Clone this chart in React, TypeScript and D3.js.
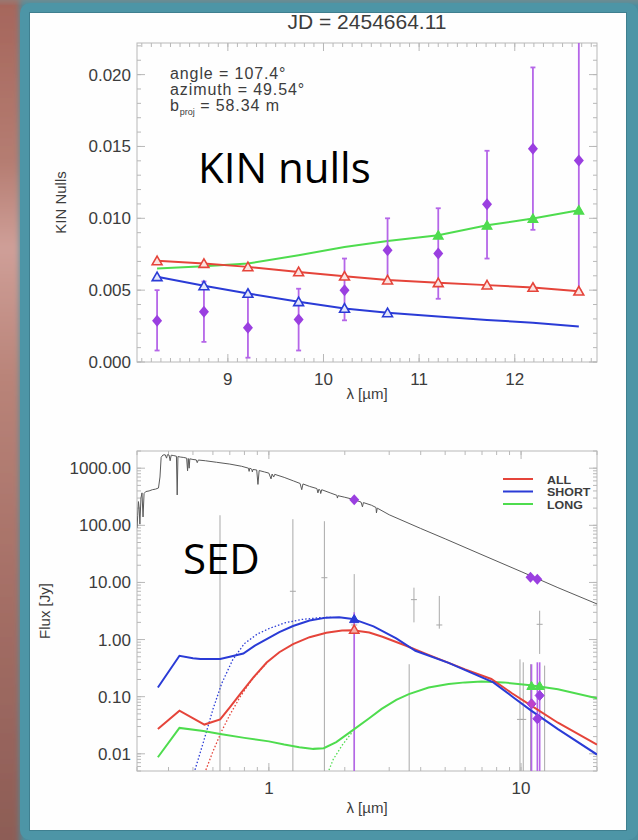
import React from 'react';
import * as d3 from 'd3';

// ---------- KIN nulls (top panel) ----------
const kinLambda = [8.26, 8.75, 9.21, 9.74, 10.22, 10.67, 11.2, 11.71, 12.19, 12.67];
const kinNull = [0.00287, 0.00349, 0.00238, 0.00296, 0.005, 0.00778, 0.00755, 0.01097, 0.01484, 0.01403];
const kinNullHi = [0.005, 0.0056, 0.0048, 0.0051, 0.0072, 0.01, 0.0107, 0.0147, 0.0205, 0.024];
const kinNullLo = [0.0008, 0.0014, 0.0003, 0.0008, 0.0029, 0.0057, 0.0044, 0.0072, 0.0092, 0.005];
const modelAll = [0.00704, 0.00685, 0.00662, 0.00627, 0.00597, 0.0057, 0.00551, 0.00535, 0.00519, 0.00493];
const modelShort = [0.00593, 0.0053, 0.00477, 0.00419, 0.00373, 0.00342, 0.00316, 0.00293, 0.00273, 0.00247];
const modelLong = [0.00651, 0.00667, 0.00685, 0.00743, 0.008, 0.00842, 0.00882, 0.00951, 0.00998, 0.01056];
const shortFitCount = 6; // triangles on first 6 channels
const longFitStart = 6; // filled triangles from 7th channel

const topXTicks = [9, 10, 11, 12];
const topYTicks = [0, 0.005, 0.01, 0.015, 0.02];
const infoLines = ['angle = 107.4°', 'azimuth = 49.54°'];

// ---------- SED (bottom panel) ----------
const photosphere: [number, number][] = [
  [0.3, 90], [0.302, 150], [0.304, 260], [0.306, 200], [0.308, 105], [0.311, 300], [0.314, 370],
  [0.317, 140], [0.32, 360], [0.325, 390], [0.335, 400], [0.345, 420], [0.355, 430], [0.365, 450],
  [0.37, 700], [0.374, 1550], [0.38, 1700], [0.388, 1720], [0.393, 1500], [0.396, 1720], [0.402, 1700],
  [0.406, 1350], [0.41, 1690], [0.42, 1660], [0.43, 1620], [0.433, 340], [0.436, 1600], [0.445, 1570],
  [0.46, 1540], [0.472, 1500], [0.476, 900], [0.479, 1480], [0.483, 1000], [0.486, 1460], [0.5, 1420],
  [0.515, 1400], [0.52, 1250], [0.525, 1390], [0.56, 1350], [0.62, 1270], [0.7, 1180], [0.78, 1080],
  [0.83, 1000], [0.835, 880], [0.84, 1000], [0.855, 960], [0.86, 860], [0.865, 950], [0.895, 930],
  [0.905, 520], [0.915, 910], [0.96, 860], [1.0, 820], [1.02, 650], [1.03, 790], [1.045, 700],
  [1.055, 780], [1.15, 690], [1.25, 600], [1.33, 540], [1.35, 420], [1.365, 530], [1.45, 480],
  [1.55, 440], [1.565, 370], [1.58, 430], [1.6, 400], [1.605, 360], [1.62, 420], [1.75, 370],
  [1.86, 335], [1.87, 300], [1.88, 330], [2.0, 310], [2.16, 285], [2.32, 255], [2.35, 210],
  [2.37, 250], [2.55, 225], [2.66, 205], [2.67, 165], [2.69, 200], [3.0, 153], [4.0, 88],
  [5.0, 58], [7.0, 30.5], [10.0, 15.5], [14.0, 8.1], [20.0, 4.2],
];
const sedAll: [number, number][] = [
  [0.363, 0.0273], [0.442, 0.057], [0.555, 0.0325], [0.641, 0.04], [0.7, 0.065], [0.769, 0.111],
  [0.87, 0.22], [0.98, 0.397], [1.1, 0.6], [1.247, 0.83], [1.45, 1.1], [1.69, 1.32], [1.95, 1.44],
  [2.15, 1.46], [2.5, 1.33], [2.82, 1.12], [3.5, 0.78], [4.2, 0.56], [4.71, 0.46], [6.0, 0.3],
  [7.62, 0.204], [9.2, 0.115], [10.97, 0.0697], [14, 0.035], [20, 0.0145],
];
const sedShort: [number, number][] = [
  [0.363, 0.145], [0.442, 0.52], [0.5, 0.47], [0.535, 0.455], [0.641, 0.455], [0.7, 0.5], [0.792, 0.57],
  [0.88, 0.78], [0.98, 1.02], [1.1, 1.35], [1.247, 1.73], [1.45, 2.15], [1.69, 2.42], [1.9, 2.45],
  [2.15, 2.3], [2.6, 1.7], [3.2, 1.05], [3.81, 0.636], [5.16, 0.39], [6.5, 0.25], [7.76, 0.178],
  [9.3, 0.098], [10.97, 0.057], [14, 0.027], [20, 0.0097],
];
const sedLong: [number, number][] = [
  [0.363, 0.0087], [0.442, 0.0284], [0.55, 0.025], [0.65, 0.022], [0.8, 0.019], [1.0, 0.0165],
  [1.15, 0.0145], [1.32, 0.013], [1.5, 0.0122], [1.65, 0.0125], [1.85, 0.016], [2.14, 0.0255],
  [2.5, 0.042], [2.8, 0.061], [3.2, 0.088], [3.59, 0.111], [4.3, 0.145], [5.16, 0.166], [6.0, 0.178],
  [6.97, 0.185], [8.5, 0.178], [10.9, 0.158], [14, 0.135], [20, 0.094],
];
const dustAll: [number, number][] = [
  [0.55, 0.004], [0.6, 0.011], [0.65, 0.025], [0.7, 0.048], [0.77, 0.1], [0.85, 0.19], [0.98, 0.39],
];
const dustShort: [number, number][] = [
  [0.5, 0.004], [0.55, 0.016], [0.6, 0.06], [0.65, 0.17], [0.72, 0.45], [0.8, 0.85], [0.9, 1.25],
  [1.0, 1.55], [1.15, 1.95], [1.35, 2.25], [1.6, 2.42], [1.8, 2.45],
];
const dustLong: [number, number][] = [[1.69, 0.004], [1.8, 0.008], [1.95, 0.014], [2.14, 0.024]];

// photometry on the stellar model
const photLam = [2.18, 10.9, 11.6];
const photFlux = [280, 12.3, 11.4];
// gray data points: lambda, flux, low, high
const grayLam = [0.64, 1.245, 1.66, 2.18, 3.6, 3.76, 4.74, 9.9, 10.2, 10.9, 11.85, 12.4];
const grayFlux = [0.002, 7.0, 12.1, 1.8, 0.002, 5.0, 1.8, 0.04, 0.04, 0.002, 1.85, 0.002];
const grayLo = [0.001, 0.001, 0.001, 0.001, 0.001, 2.0, 1.55, 0.001, 0.001, 0.001, 0.56, 0.001];
const grayHi = [150, 128, 118, 14, 0.37, 8.1, 5.8, 0.45, 0.4, 0.37, 3.2, 0.35];
// excess (purple) points
const excessLam = [2.18, 11.0, 11.6, 11.85];
const excessFlux = [1.9, 0.075, 0.041, 0.105];
const excessHi = [3.0, 0.37, 0.4, 0.4];
const excessLo = [0.001, 0.001, 0.001, 0.001];
// fitted points
const fitShortPt: [number, number][] = [[2.18, 2.3]];
const fitAllPt: [number, number][] = [[2.18, 1.5]];
const fitLongPt: [number, number][] = [[11.0, 0.155], [11.85, 0.155]];

const botXTicks = [1, 10];
const botYTicks = [0.01, 0.1, 1, 10, 100, 1000];
const legendNames = ['ALL', 'SHORT', 'LONG'];

const RED = '#e5443a';
const BLUE = '#2a3bd6';
const GREEN = '#4edc4e';
const PURPLE = '#9a3fe0';
const PURPLE_BAR = '#b566e8';
const AXIS = '#b8b8b8';
const TXT = '#3c3c3c';
const FONT = "'Liberation Sans', Arial, Helvetica, sans-serif";

const topBox = { l: 137, r: 597, t: 43, b: 362 };
const botBox = { l: 137, r: 597, t: 451, b: 771 };

function diamond(x: number, y: number, w = 5, h = 6) {
  return `M${x},${y - h}L${x + w},${y}L${x},${y + h}L${x - w},${y}Z`;
}
const triPath = d3.symbol(d3.symbolTriangle, 42)()!;
const triPathSmall = d3.symbol(d3.symbolTriangle, 38)()!;

export default function App() {
  const xT = d3.scaleLinear().domain([8.05, 12.86]).range([topBox.l, topBox.r]);
  const yT = d3.scaleLinear().domain([0, 0.0222]).range([topBox.b, topBox.t]);
  const xB = d3.scaleLog().domain([0.3, 20]).range([botBox.l, botBox.r]);
  const yB = d3.scaleLog().domain([0.005, 2000]).range([botBox.b, botBox.t]);

  const lineT = (vals: number[]) =>
    d3.line<number>().x((_, i) => xT(kinLambda[i])).y((d) => yT(d))(vals) || '';
  const lineB = d3.line<[number, number]>().x((d) => xB(d[0])).y((d) => yB(d[1]));

  // ticks
  const topXMinor = d3.range(81, 129).map((v) => v / 10).filter((v) => v >= 8.05 && v <= 12.86);
  const topYMinor = d3.range(0, 23).map((v) => v / 1000).filter((v) => v <= 0.0222);
  const botXMinor: number[] = [];
  [0.1, 1, 10].forEach((dec) => d3.range(1, 10).forEach((m) => {
    const v = dec * m;
    if (v >= 0.3 && v <= 20.01) botXMinor.push(v);
  }));
  const botYMinor: number[] = [];
  [0.001, 0.01, 0.1, 1, 10, 100, 1000].forEach((dec) => d3.range(1, 10).forEach((m) => {
    const v = dec * m;
    if (v >= 0.005 && v <= 2000.1) botYMinor.push(v);
  }));

  const tickSet = (
    box: typeof topBox,
    xs: number[],
    ys: number[],
    xsc: (v: number) => number,
    ysc: (v: number) => number,
    len: number,
    key: string,
  ) => (
    <g key={key} stroke={AXIS} strokeWidth={1}>
      {xs.map((v, i) => (
        <g key={`x${i}`}>
          <line x1={xsc(v)} x2={xsc(v)} y1={box.b} y2={box.b - len} />
          <line x1={xsc(v)} x2={xsc(v)} y1={box.t} y2={box.t + len} />
        </g>
      ))}
      {ys.map((v, i) => (
        <g key={`y${i}`}>
          <line x1={box.l} x2={box.l + len} y1={ysc(v)} y2={ysc(v)} />
          <line x1={box.r} x2={box.r - len} y1={ysc(v)} y2={ysc(v)} />
        </g>
      ))}
    </g>
  );

  return (
    <svg
      width={638}
      height={840}
      style={{ position: 'fixed', left: 0, top: 0, display: 'block' }}
      fontFamily={FONT}
    >
      <defs>
        <linearGradient id="bgRed" x1="0" y1="0" x2="0" y2="1">
          <stop offset="0" stopColor="#a4645a" />
          <stop offset="0.2" stopColor="#b57d72" />
          <stop offset="0.3" stopColor="#cf9f98" />
          <stop offset="0.45" stopColor="#b98479" />
          <stop offset="0.7" stopColor="#a56f66" />
          <stop offset="1" stopColor="#8c5c55" />
        </linearGradient>
        <filter id="blur4" x="-20%" y="-20%" width="140%" height="140%">
          <feGaussianBlur stdDeviation="3" />
        </filter>
        <clipPath id="clipTop">
          <rect x={topBox.l} y={topBox.t} width={topBox.r - topBox.l} height={topBox.b - topBox.t} />
        </clipPath>
        <clipPath id="clipBot">
          <rect x={botBox.l} y={botBox.t} width={botBox.r - botBox.l} height={botBox.b - botBox.t} />
        </clipPath>
      </defs>

      {/* background & frame */}
      <rect x={0} y={0} width={638} height={840} fill="#4a8e9f" />
      <rect x={-10} y={-10} width={30} height={860} fill="url(#bgRed)" filter="url(#blur4)" />
      <rect x={-10} y={-10} width={660} height={12} fill="#8f8a86" filter="url(#blur4)" opacity={0.7} />
      <rect x={20} y={3} width={618} height={837} rx={10} fill="#4d95a6" />
      <rect x={29} y={12} width={598} height={819} fill="#3f7f8f" />
      <rect x={30} y={13} width={596} height={817} fill="#fefefe" />

      {/* ================= TOP PANEL ================= */}
      <text x={(topBox.l + topBox.r) / 2} y={29} textAnchor="middle" fontSize={21} fill={TXT}>
        JD = 2454664.11
      </text>
      <rect x={topBox.l} y={topBox.t} width={topBox.r - topBox.l} height={topBox.b - topBox.t}
        fill="none" stroke={AXIS} strokeWidth={1} />
      {tickSet(topBox, topXMinor, topYMinor, xT, yT, 4, 'tmin')}
      {tickSet(topBox, topXTicks, topYTicks, xT, yT, 8, 'tmaj')}
      {topYTicks.map((v) => (
        <text key={v} x={131} y={yT(v) + 6} textAnchor="end" fontSize={17} fill={TXT}>
          {d3.format('.3f')(v)}
        </text>
      ))}
      {topXTicks.map((v) => (
        <text key={v} x={xT(v)} y={385} textAnchor="middle" fontSize={17} fill={TXT}>
          {v}
        </text>
      ))}
      <text x={(topBox.l + topBox.r) / 2} y={399} textAnchor="middle" fontSize={15} fill={TXT}>
        λ [µm]
      </text>
      <text transform={`translate(66,${(topBox.t + topBox.b) / 2}) rotate(-90)`} textAnchor="middle"
        fontSize={15} fill={TXT}>
        KIN Nulls
      </text>
      {infoLines.map((s, i) => (
        <text key={s} x={170} y={79 + i * 16} fontSize={16} letterSpacing={0.9} fill={TXT}>{s}</text>
      ))}
      <text x={170} y={111} fontSize={16} letterSpacing={0.9} fill={TXT}>
        b<tspan fontSize={9} dy={4} letterSpacing={0}>proj</tspan><tspan dy={-4}> = 58.34 m</tspan>
      </text>

      <g clipPath="url(#clipTop)">
        <path d={lineT(modelLong)} fill="none" stroke={GREEN} strokeWidth={2} />
        <path d={lineT(modelAll)} fill="none" stroke={RED} strokeWidth={2} />
        <path d={lineT(modelShort)} fill="none" stroke={BLUE} strokeWidth={2} />
        {kinLambda.map((l, i) => (
          <g key={`eb${i}`} stroke={PURPLE_BAR} strokeWidth={1.8}>
            <line x1={xT(l)} x2={xT(l)} y1={yT(kinNullLo[i])} y2={yT(kinNullHi[i])} />
            <line x1={xT(l) - 2.5} x2={xT(l) + 2.5} y1={yT(kinNullLo[i])} y2={yT(kinNullLo[i])} />
            <line x1={xT(l) - 2.5} x2={xT(l) + 2.5} y1={yT(kinNullHi[i])} y2={yT(kinNullHi[i])} />
          </g>
        ))}
        {kinLambda.map((l, i) => (
          <path key={`ra${i}`} d={triPath} transform={`translate(${xT(l)},${yT(modelAll[i]) + 1})`}
            fill="#fbe3e0" stroke={RED} strokeWidth={1.6} />
        ))}
        {kinLambda.slice(0, shortFitCount).map((l, i) => (
          <path key={`bs${i}`} d={triPath} transform={`translate(${xT(l)},${yT(modelShort[i]) + 1})`}
            fill="#e3e6fb" stroke={BLUE} strokeWidth={1.6} />
        ))}
        {kinLambda.slice(longFitStart).map((l, j) => (
          <path key={`gl${j}`} d={triPath}
            transform={`translate(${xT(l)},${yT(modelLong[j + longFitStart]) + 1})`}
            fill={GREEN} stroke={GREEN} strokeWidth={1.2} />
        ))}
        {kinLambda.map((l, i) => (
          <path key={`dm${i}`} d={diamond(xT(l), yT(kinNull[i]), 5, 6)} fill={PURPLE} />
        ))}
      </g>
      <text x={198} y={183} fontSize={42} fontFamily="'Open Sans', sans-serif" fill="#000">KIN nulls</text>

      {/* ================= BOTTOM PANEL ================= */}
      <rect x={botBox.l} y={botBox.t} width={botBox.r - botBox.l} height={botBox.b - botBox.t}
        fill="none" stroke={AXIS} strokeWidth={1} />
      {tickSet(botBox, botXMinor, botYMinor, xB, yB, 4, 'bmin')}
      {tickSet(botBox, botXTicks, botYTicks, xB, yB, 8, 'bmaj')}
      {botYTicks.map((v) => (
        <text key={v} x={131} y={yB(v) + 6} textAnchor="end" fontSize={17} fill={TXT}>
          {d3.format('.2f')(v)}
        </text>
      ))}
      {botXTicks.map((v) => (
        <text key={v} x={xB(v)} y={794} textAnchor="middle" fontSize={17} fill={TXT}>
          {v}
        </text>
      ))}
      <text x={(botBox.l + botBox.r) / 2} y={813} textAnchor="middle" fontSize={15} fill={TXT}>
        λ [µm]
      </text>
      <text transform={`translate(50,${(botBox.t + botBox.b) / 2}) rotate(-90)`} textAnchor="middle"
        fontSize={15} fill={TXT}>
        Flux [Jy]
      </text>

      <g clipPath="url(#clipBot)">
        {/* gray data */}
        {grayLam.map((l, i) => (
          <g key={`g${i}`} stroke="#a9a9a9" strokeWidth={1}>
            <line x1={xB(l)} x2={xB(l)} y1={yB(grayLo[i])} y2={yB(grayHi[i])} />
            <line x1={xB(l) - 3} x2={xB(l) + 3} y1={yB(grayFlux[i])} y2={yB(grayFlux[i])} />
          </g>
        ))}
        {/* photosphere */}
        <path d={lineB(photosphere) || ''} fill="none" stroke="#5a5a5a" strokeWidth={1} />
        {/* purple error bars */}
        {excessLam.map((l, i) => (
          <line key={`pe${i}`} x1={xB(l)} x2={xB(l)} y1={yB(excessLo[i])} y2={yB(excessHi[i])}
            stroke={PURPLE_BAR} strokeWidth={1.6} />
        ))}
        {/* dust-only dotted */}
        <path d={lineB(dustShort) || ''} fill="none" stroke={BLUE} strokeWidth={1.3} strokeDasharray="1.5 2" />
        <path d={lineB(dustAll) || ''} fill="none" stroke={RED} strokeWidth={1.3} strokeDasharray="1.5 2" />
        <path d={lineB(dustLong) || ''} fill="none" stroke={GREEN} strokeWidth={1.3} strokeDasharray="1.5 2" />
        {/* models */}
        <path d={lineB(sedLong) || ''} fill="none" stroke={GREEN} strokeWidth={2} />
        <path d={lineB(sedAll) || ''} fill="none" stroke={RED} strokeWidth={2} />
        <path d={lineB(sedShort) || ''} fill="none" stroke={BLUE} strokeWidth={2} />
        {/* markers */}
        {photLam.map((l, i) => (
          <path key={`ph${i}`} d={diamond(xB(l), yB(photFlux[i]), 5, 5.5)} fill={PURPLE} />
        ))}
        {excessLam.slice(1).map((l, j) => (
          <path key={`ex${j}`} d={diamond(xB(l), yB(excessFlux[j + 1]), 4.5, 5)}
            fill={j === 0 ? '#c043c8' : PURPLE} stroke={PURPLE} strokeWidth={1} />
        ))}
        {fitLongPt.map((p, i) => (
          <path key={`fl${i}`} d={triPathSmall} transform={`translate(${xB(p[0])},${yB(p[1]) + 1})`}
            fill={GREEN} stroke={GREEN} strokeWidth={1} />
        ))}
        {fitAllPt.map((p, i) => (
          <path key={`fa${i}`} d={triPathSmall} transform={`translate(${xB(p[0])},${yB(p[1]) + 1})`}
            fill="#f3b0a8" stroke={RED} strokeWidth={1.5} />
        ))}
        {fitShortPt.map((p, i) => (
          <path key={`fs${i}`} d={triPathSmall} transform={`translate(${xB(p[0])},${yB(p[1]) + 1})`}
            fill={BLUE} stroke={BLUE} strokeWidth={1} />
        ))}
      </g>

      {/* legend */}
      {legendNames.map((n, i) => (
        <g key={n}>
          <line x1={503} x2={533} y1={479 + i * 12.5} y2={479 + i * 12.5}
            stroke={[RED, BLUE, GREEN][i]} strokeWidth={2} />
          <g transform={`translate(547,${483.5 + i * 12.5}) scale(1.08,1)`}>
            <text x={0} y={0} fontSize={11.5} fontWeight="bold" fill={TXT}>{n}</text>
          </g>
        </g>
      ))}
      <text x={183} y={574} fontSize={42} fontFamily="'Open Sans', sans-serif" fill="#000">SED</text>
    </svg>
  );
}
